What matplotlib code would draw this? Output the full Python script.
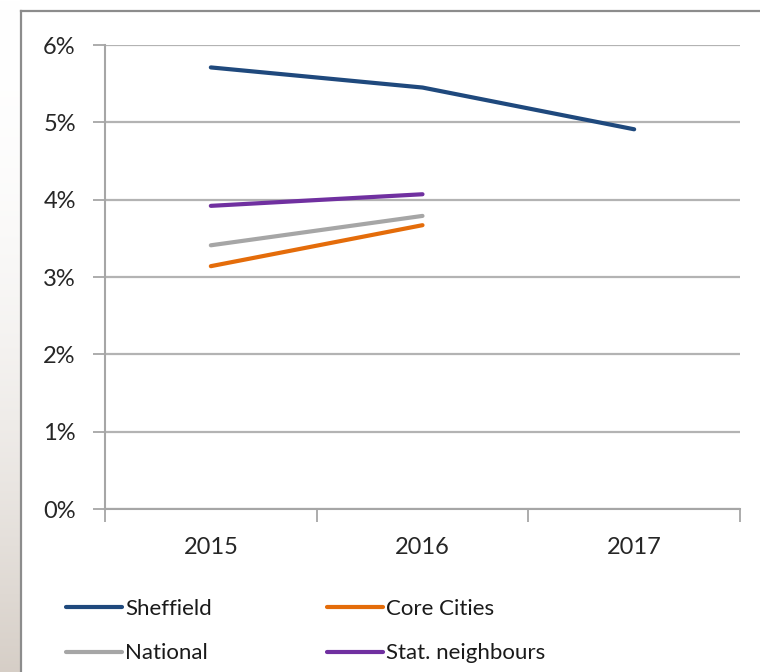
import numpy as np
import matplotlib.pyplot as plt
from matplotlib.lines import Line2D

# Data (percent)
years = ["2015", "2016", "2017"]
sheffield = [5.71, 5.45, 4.91]
core_cities = [3.14, 3.67]
national = [3.41, 3.79]
stat_neighbours = [3.92, 4.07]

W, H = 760, 672


def main():
    plt.rcParams['font.family'] = ['Lato', 'DejaVu Sans']
    fig = plt.figure(figsize=(W / 100, H / 100), dpi=100)

    # left strip background (photo edge behind the chart frame)
    bg = fig.add_axes([0, 0, 20 / W, 1])
    grad = np.linspace(0, 1, 256) ** 2
    cols = np.ones((256, 1, 3))
    cols[:, 0, 0] = 1 - grad * 0.16
    cols[:, 0, 1] = 1 - grad * 0.19
    cols[:, 0, 2] = 1 - grad * 0.22
    bg.imshow(cols, aspect='auto', extent=[0, 1, 0, 1], origin='upper')
    bg.axis('off')

    # chart frame
    fig.add_artist(Line2D([20.5 / W, 20.5 / W], [0, 1 - 10.5 / H], color='#8c8c8c', lw=1.6,
                          transform=fig.transFigure))
    fig.add_artist(Line2D([20.5 / W, 1], [1 - 10.5 / H, 1 - 10.5 / H], color='#8c8c8c', lw=1.6,
                          transform=fig.transFigure))

    ax = fig.add_axes([105 / W, 1 - 509 / H, 635 / W, 464 / H])
    x = np.arange(len(years))
    l1, = ax.plot(x, sheffield, color='#1f497d', lw=3, solid_capstyle='round', label='Sheffield')
    l2, = ax.plot(x[:2], core_cities, color='#e46c0a', lw=3, solid_capstyle='round',
                  label='Core Cities')
    l3, = ax.plot(x[:2], national, color='#a6a6a6', lw=3, solid_capstyle='round', label='National')
    l4, = ax.plot(x[:2], stat_neighbours, color='#7030a0', lw=3, solid_capstyle='round',
                  label='Stat. neighbours')

    ax.set_xlim(-0.5, 2.5)
    ax.set_ylim(0, 6)
    ax.set_yticks(range(0, 7))
    ax.set_yticklabels([f"{v}%" for v in range(0, 7)])
    ax.set_xticks(x)
    ax.set_xticklabels(years)
    ax.set_xticks([-0.5, 0.5, 1.5, 2.5], minor=True)
    ax.tick_params(axis='x', which='major', length=0, pad=20, labelsize=17, colors='#262626')
    ax.tick_params(axis='x', which='minor', length=9, width=1.3, color='#a6a6a6', direction='out')
    ax.tick_params(axis='y', length=9, width=1.3, color='#a6a6a6', pad=12, labelsize=17,
                   labelcolor='#262626')
    ax.grid(axis='y', color='#b3b3b3', lw=1.6)
    ax.set_axisbelow(True)
    for s in ['top', 'right']:
        ax.spines[s].set_visible(False)
    for s in ['left', 'bottom']:
        ax.spines[s].set_color('#a6a6a6')
        ax.spines[s].set_linewidth(1.5)

    # legend rows: Sheffield / Core Cities, National / Stat. neighbours
    leg = fig.legend(handles=[l1, l3, l2, l4], loc='upper left',
                     bbox_to_anchor=(46 / W, 1 - 579 / H), ncol=2,
                     frameon=False, fontsize=16, handlelength=2.5, handletextpad=0.15,
                     columnspacing=5.2, labelspacing=1.1)
    for t in leg.get_texts():
        t.set_color('#1a1a1a')

    fig.savefig("out.png", dpi=100)


if __name__ == '__main__':
    main()
